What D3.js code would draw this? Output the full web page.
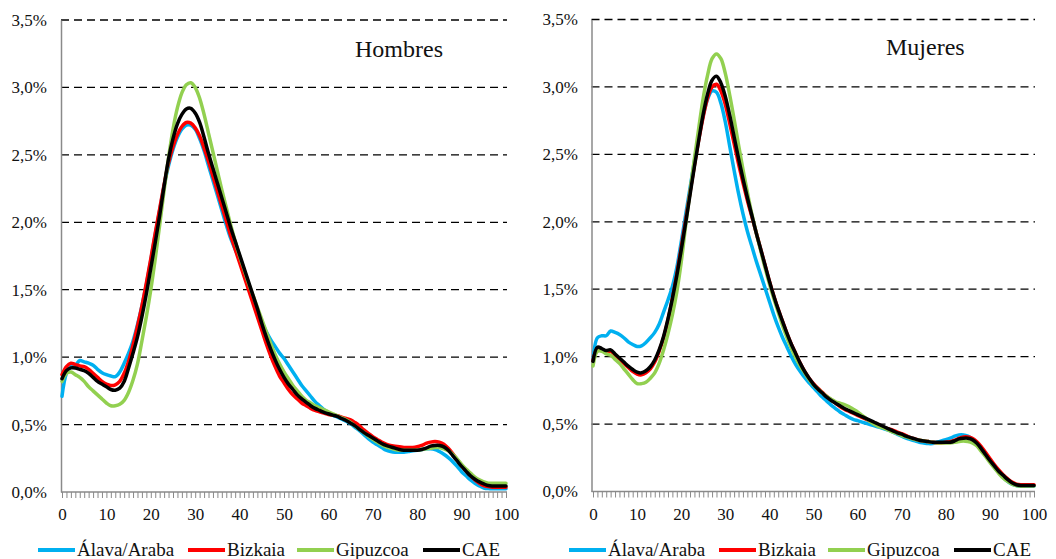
<!DOCTYPE html>
<html>
<head>
<meta charset="utf-8">
<script src="https://cdn.jsdelivr.net/npm/d3@7"></script>
<style>
  html, body { margin: 0; padding: 0; background: #fff; }
  svg { display: block; }
  svg text { font-family: "Liberation Serif", "Times New Roman", serif !important; fill: #111; }
</style>
</head>
<body>
<svg id="chart" width="1056" height="559"></svg>
<script>
// ---------- DATA ----------
const ages = d3.range(0, 101);
const seriesNames = ["Álava/Araba", "Bizkaia", "Gipuzcoa", "CAE"];
const seriesColors = ["#00B0F0", "#FF0000", "#92D050", "#000000"];
const yTicks = [0, 0.5, 1.0, 1.5, 2.0, 2.5, 3.0, 3.5];
const xLabels = [0, 10, 20, 30, 40, 50, 60, 70, 80, 90, 100];
const panelTitles = ["Hombres", "Mujeres"];

const hombresAlava = [0.71,0.88,0.93,0.94,0.975,0.965,0.955,0.94,0.91,0.885,
  0.87,0.86,0.855,0.89,0.955,1.03,1.12,1.24,1.38,1.54,
  1.72,1.91,2.09,2.27,2.42,2.54,2.63,2.69,2.72,2.72,
  2.69,2.62,2.53,2.42,2.31,2.20,2.09,1.98,1.88,1.80,
  1.72,1.62,1.52,1.43,1.34,1.26,1.19,1.13,1.08,1.03,
  0.99,0.94,0.89,0.84,0.79,0.75,0.71,0.67,0.64,0.61,
  0.59,0.57,0.555,0.54,0.525,0.505,0.48,0.455,0.425,0.395,
  0.37,0.35,0.33,0.31,0.30,0.295,0.295,0.295,0.30,0.305,
  0.31,0.315,0.32,0.32,0.315,0.30,0.28,0.255,0.225,0.19,
  0.15,0.12,0.09,0.065,0.045,0.03,0.025,0.025,0.025,0.025,0.025];
const hombresBizkaia = [0.87,0.93,0.955,0.945,0.935,0.93,0.91,0.88,0.85,0.82,
  0.80,0.79,0.795,0.82,0.88,0.97,1.09,1.23,1.38,1.55,
  1.73,1.92,2.10,2.28,2.44,2.56,2.65,2.71,2.74,2.735,
  2.70,2.64,2.55,2.45,2.34,2.23,2.12,2.01,1.90,1.80,
  1.70,1.60,1.50,1.40,1.30,1.20,1.10,1.01,0.93,0.86,
  0.81,0.76,0.72,0.69,0.66,0.64,0.62,0.605,0.595,0.585,
  0.575,0.57,0.565,0.555,0.545,0.535,0.515,0.49,0.46,0.435,
  0.41,0.39,0.37,0.355,0.345,0.34,0.335,0.33,0.33,0.33,
  0.335,0.345,0.36,0.37,0.375,0.37,0.355,0.325,0.285,0.24,
  0.195,0.155,0.12,0.09,0.065,0.048,0.04,0.035,0.035,0.035,0.035];
const hombresGipuzcoa = [0.82,0.88,0.89,0.87,0.85,0.82,0.78,0.75,0.72,0.69,
  0.66,0.64,0.64,0.65,0.68,0.74,0.83,0.95,1.12,1.30,
  1.50,1.73,1.98,2.24,2.48,2.69,2.85,2.96,3.02,3.035,
  3.00,2.92,2.80,2.66,2.52,2.38,2.24,2.11,1.98,1.86,
  1.75,1.65,1.55,1.46,1.37,1.28,1.19,1.10,1.02,0.95,
  0.89,0.84,0.79,0.75,0.71,0.68,0.66,0.64,0.625,0.61,
  0.595,0.58,0.565,0.55,0.535,0.515,0.49,0.465,0.44,0.415,
  0.39,0.37,0.35,0.335,0.325,0.315,0.31,0.31,0.31,0.31,
  0.31,0.315,0.32,0.325,0.33,0.33,0.32,0.305,0.28,0.245,
  0.205,0.17,0.14,0.11,0.09,0.075,0.065,0.065,0.065,0.065,0.065];
const hombresCAE = [0.84,0.90,0.92,0.92,0.91,0.90,0.88,0.85,0.82,0.80,
  0.78,0.76,0.755,0.77,0.82,0.92,1.03,1.15,1.30,1.47,
  1.66,1.85,2.05,2.27,2.47,2.62,2.73,2.80,2.84,2.845,
  2.81,2.74,2.63,2.51,2.40,2.29,2.18,2.07,1.96,1.86,
  1.76,1.66,1.56,1.46,1.36,1.25,1.15,1.06,0.98,0.91,
  0.85,0.80,0.76,0.72,0.69,0.665,0.64,0.62,0.605,0.59,
  0.58,0.57,0.56,0.545,0.53,0.51,0.49,0.465,0.44,0.42,
  0.40,0.38,0.36,0.345,0.335,0.325,0.315,0.31,0.31,0.31,
  0.31,0.315,0.325,0.34,0.345,0.345,0.335,0.31,0.27,0.23,
  0.19,0.155,0.12,0.095,0.075,0.06,0.048,0.045,0.045,0.045,0.045];

const mujeresAlava = [0.97,1.14,1.155,1.155,1.19,1.18,1.165,1.14,1.11,1.09,
  1.075,1.08,1.105,1.14,1.18,1.24,1.33,1.42,1.52,1.66,
  1.85,2.05,2.25,2.45,2.63,2.79,2.91,2.97,2.96,2.88,
  2.74,2.56,2.38,2.21,2.06,1.93,1.82,1.71,1.61,1.51,
  1.41,1.31,1.22,1.14,1.07,1.00,0.94,0.89,0.845,0.805,
  0.77,0.735,0.70,0.67,0.64,0.615,0.59,0.57,0.55,0.535,
  0.525,0.515,0.505,0.495,0.485,0.475,0.465,0.455,0.44,0.425,
  0.41,0.395,0.385,0.375,0.365,0.36,0.355,0.355,0.365,0.375,
  0.385,0.395,0.41,0.42,0.42,0.41,0.39,0.36,0.32,0.275,
  0.225,0.18,0.14,0.105,0.075,0.055,0.045,0.04,0.04,0.04,0.04];
const mujeresBizkaia = [0.97,1.06,1.05,1.03,1.04,1.01,0.98,0.95,0.92,0.89,
  0.87,0.865,0.88,0.91,0.96,1.04,1.14,1.27,1.43,1.61,
  1.81,2.01,2.22,2.42,2.61,2.78,2.92,3.00,3.02,2.97,
  2.87,2.73,2.58,2.43,2.29,2.16,2.04,1.92,1.80,1.68,
  1.56,1.45,1.35,1.26,1.17,1.09,1.02,0.95,0.89,0.84,
  0.80,0.765,0.735,0.705,0.68,0.655,0.63,0.61,0.595,0.58,
  0.565,0.55,0.535,0.52,0.505,0.49,0.475,0.465,0.455,0.44,
  0.43,0.415,0.40,0.39,0.38,0.375,0.37,0.365,0.36,0.36,
  0.365,0.37,0.38,0.395,0.405,0.405,0.395,0.37,0.335,0.29,
  0.245,0.20,0.16,0.125,0.095,0.07,0.055,0.05,0.05,0.05,0.05];
const mujeresGipuzcoa = [0.93,1.04,1.04,1.02,1.01,0.98,0.95,0.91,0.87,0.83,
  0.80,0.80,0.81,0.84,0.88,0.95,1.05,1.17,1.31,1.48,
  1.70,1.97,2.22,2.47,2.70,2.92,3.09,3.21,3.245,3.21,
  3.10,2.94,2.76,2.57,2.39,2.22,2.06,1.92,1.79,1.66,
  1.54,1.43,1.33,1.23,1.14,1.06,0.99,0.93,0.88,0.83,
  0.79,0.76,0.73,0.705,0.685,0.665,0.655,0.645,0.63,0.61,
  0.59,0.565,0.54,0.515,0.495,0.48,0.47,0.455,0.44,0.43,
  0.415,0.405,0.395,0.385,0.38,0.375,0.37,0.365,0.36,0.36,
  0.36,0.36,0.365,0.37,0.375,0.37,0.36,0.34,0.30,0.26,
  0.215,0.175,0.135,0.10,0.075,0.055,0.045,0.04,0.04,0.04,0.04];
const mujeresCAE = [0.965,1.07,1.06,1.045,1.05,1.02,0.99,0.96,0.93,0.905,
  0.885,0.88,0.895,0.925,0.975,1.05,1.15,1.28,1.43,1.60,
  1.79,1.99,2.20,2.41,2.61,2.80,2.95,3.05,3.08,3.03,
  2.93,2.79,2.63,2.47,2.32,2.18,2.05,1.92,1.80,1.68,
  1.56,1.45,1.35,1.26,1.17,1.09,1.02,0.95,0.89,0.84,
  0.795,0.76,0.73,0.70,0.675,0.655,0.635,0.615,0.60,0.585,
  0.57,0.555,0.54,0.525,0.51,0.495,0.48,0.465,0.45,0.435,
  0.425,0.41,0.40,0.39,0.38,0.375,0.37,0.365,0.365,0.365,
  0.365,0.365,0.375,0.39,0.395,0.395,0.385,0.36,0.32,0.275,
  0.23,0.19,0.15,0.12,0.09,0.065,0.05,0.045,0.045,0.045,0.045];

const panelSeries = [
  [hombresAlava, hombresBizkaia, hombresGipuzcoa, hombresCAE],
  [mujeresAlava, mujeresBizkaia, mujeresGipuzcoa, mujeresCAE]
];

// ---------- LAYOUT ----------
const FONT = '"Liberation Serif", "Times New Roman", serif';
const panels = [
  { axisX: 61, x0: 62, x1: 506, yTop: 20, yBot: 492, labelRight: 47,
    titleX: 355, titleY: 57, legendX: [38, 188, 297, 423] },
  { axisX: 591.5, x0: 593, x1: 1034, yTop: 19.5, yBot: 491.5, labelRight: 578,
    titleX: 886, titleY: 55, legendX: [569, 719, 828, 954] }
];
const svg = d3.select("#chart");
const fmt = v => d3.format(".1f")(v).replace(".", ",") + "%";

panels.forEach((p, pi) => {
  const g = svg.append("g").attr("font-family", FONT);
  const x = d3.scaleLinear().domain([0, 100]).range([p.x0, p.x1]);
  const y = d3.scaleLinear().domain([0, 3.5]).range([p.yBot, p.yTop]);

  // gridlines
  g.selectAll("line.grid").data(yTicks.filter(v => v > 0)).join("line")
    .attr("x1", p.axisX).attr("x2", p.x1 + 1)
    .attr("y1", d => y(d)).attr("y2", d => y(d))
    .attr("stroke", "#000").attr("stroke-width", 1.3)
    .attr("stroke-dasharray", "8,5");

  // y axis
  const yAxis = d3.axisLeft(y).tickValues(yTicks).tickSize(0).tickPadding(p.axisX - p.labelRight).tickFormat(fmt);
  const ya = g.append("g").attr("transform", `translate(${p.axisX},0)`).call(yAxis)
    .attr("font-family", FONT).attr("font-size", 17);
  ya.select(".domain").attr("stroke", "#8a8a8a").attr("stroke-width", 1.5);
  ya.selectAll("text").attr("fill", "#111");

  // x axis (minor ticks every year)
  const xAxis = d3.axisBottom(x).tickValues(ages).tickSize(6).tickPadding(10)
    .tickFormat(d => xLabels.includes(d) ? d : "");
  const xa = g.append("g").attr("transform", `translate(0,${p.yBot})`).call(xAxis)
    .attr("font-family", FONT).attr("font-size", 17);
  xa.select(".domain").attr("d", `M${p.axisX},0H${p.x1 + 1}`).attr("stroke", "#8a8a8a").attr("stroke-width", 1.5);
  xa.selectAll(".tick line").attr("stroke", "#8a8a8a").attr("stroke-width", 1);
  xa.selectAll("text").attr("fill", "#111");

  // series lines
  const line = d3.line().x((d, i) => x(ages[i])).y(d => y(d)).curve(d3.curveCatmullRom.alpha(0.5));
  panelSeries[pi].forEach((vals, si) => {
    g.append("path").datum(vals)
      .attr("fill", "none")
      .attr("stroke", seriesColors[si])
      .attr("stroke-width", 3.5)
      .attr("stroke-linejoin", "round")
      .attr("stroke-linecap", "round")
      .attr("d", line);
  });

  // title
  g.append("text").attr("x", p.titleX).attr("y", p.titleY)
    .attr("font-size", 24).text(panelTitles[pi]);

  // legend
  seriesNames.forEach((name, si) => {
    const lx = p.legendX[si];
    g.append("line").attr("x1", lx).attr("x2", lx + 37).attr("y1", 550).attr("y2", 550)
      .attr("stroke", seriesColors[si]).attr("stroke-width", 4);
    g.append("text").attr("x", lx + 39).attr("y", 556).attr("font-size", 19).text(name);
  });
});
</script>
</body>
</html>
